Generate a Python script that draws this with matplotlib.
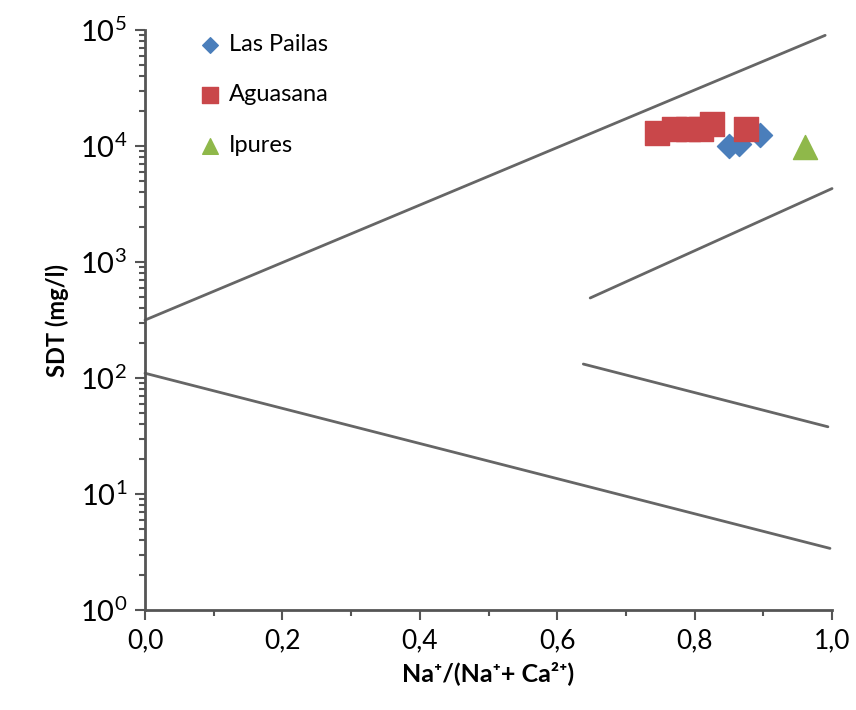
import matplotlib
matplotlib.use("Agg")
import matplotlib.pyplot as plt
import numpy as np
from matplotlib.ticker import FixedLocator, LogLocator, NullFormatter

plt.rcParams['font.family'] = ['Lato', 'DejaVu Sans']
plt.rcParams['mathtext.fontset'] = 'custom'
plt.rcParams['mathtext.rm'] = 'Lato'
plt.rcParams['mathtext.bf'] = 'Lato:bold'

# boundary lines of the diagram (x, SDT)
upper_x = [0.0, 0.99]
upper_y = [316, 90000]
lower_x = [0.0, 0.997]
lower_y = [110, 3.4]
right_up_x = [0.648, 1.0]
right_up_y = [490, 4300]
right_low_x = [0.638, 0.994]
right_low_y = [132, 38]

# samples
pailas_x = [0.85, 0.865, 0.895]
pailas_y = [10000, 10500, 12500]
aguasana_x = [0.745, 0.77, 0.79, 0.81, 0.825, 0.875]
aguasana_y = [13000, 14000, 14000, 14000, 15500, 14000]
ipures_x = [0.96]
ipures_y = [9800]

xticks = [0.0, 0.2, 0.4, 0.6, 0.8, 1.0]
xtick_labels = ['0,0', '0,2', '0,4', '0,6', '0,8', '1,0']
ytick_exp = [0, 1, 2, 3, 4, 5]

fig = plt.figure(figsize=(8.56, 7.1), dpi=100)
ax = fig.add_axes([0.1694, 0.1408, 0.8026, 0.8169])

line_color = '#666666'
for lx, ly in [(upper_x, upper_y), (lower_x, lower_y), (right_up_x, right_up_y), (right_low_x, right_low_y)]:
    ax.plot(lx, ly, color=line_color, lw=2, solid_capstyle='round', clip_on=False)

ax.scatter(pailas_x, pailas_y, marker='D', s=150, color='#4a7ebb', label='Las Pailas', zorder=3)
ax.scatter(aguasana_x, aguasana_y, marker='s', s=290, color='#c9474a', label='Aguasana', zorder=4)
ax.scatter(ipures_x, ipures_y, marker='^', s=300, color='#8fb84a', label='Ipures', zorder=3)

ax.set_yscale('log')
ax.set_xlim(0, 1)
ax.set_ylim(1, 1e5)

ax.set_xticks(xticks)
ax.set_xticklabels(xtick_labels, fontsize=19)
ax.xaxis.set_minor_locator(FixedLocator(np.arange(0.1, 1.0, 0.2)))

ax.set_yticks([10.0 ** e for e in ytick_exp])
ax.set_yticklabels([r'$10^{%d}$' % e for e in ytick_exp], fontsize=21)
ax.yaxis.set_minor_locator(LogLocator(base=10, subs=np.arange(2, 10), numticks=20))
ax.yaxis.set_minor_formatter(NullFormatter())

for s in ['top', 'right']:
    ax.spines[s].set_visible(False)
for s in ['left', 'bottom']:
    ax.spines[s].set_color('#555555')
    ax.spines[s].set_linewidth(2)

ax.tick_params(axis='both', which='major', direction='out', length=7, width=1.5, color='#555555', pad=6)
ax.tick_params(axis='both', which='minor', direction='out', length=4, width=1.5, color='#555555')

ax.set_ylabel('SDT (mg/l)', fontsize=17, fontweight='bold', labelpad=8)
ax.set_xlabel('Na⁺/(Na⁺+ Ca²⁺)', fontsize=18, fontweight='bold', labelpad=6)

ax.legend(loc='upper left', bbox_to_anchor=(0.03, 1.03), frameon=False, fontsize=17,
          labelspacing=1.25, handletextpad=-0.2, markerscale=0.65, scatterpoints=1)

fig.savefig('out.png', dpi=100)
